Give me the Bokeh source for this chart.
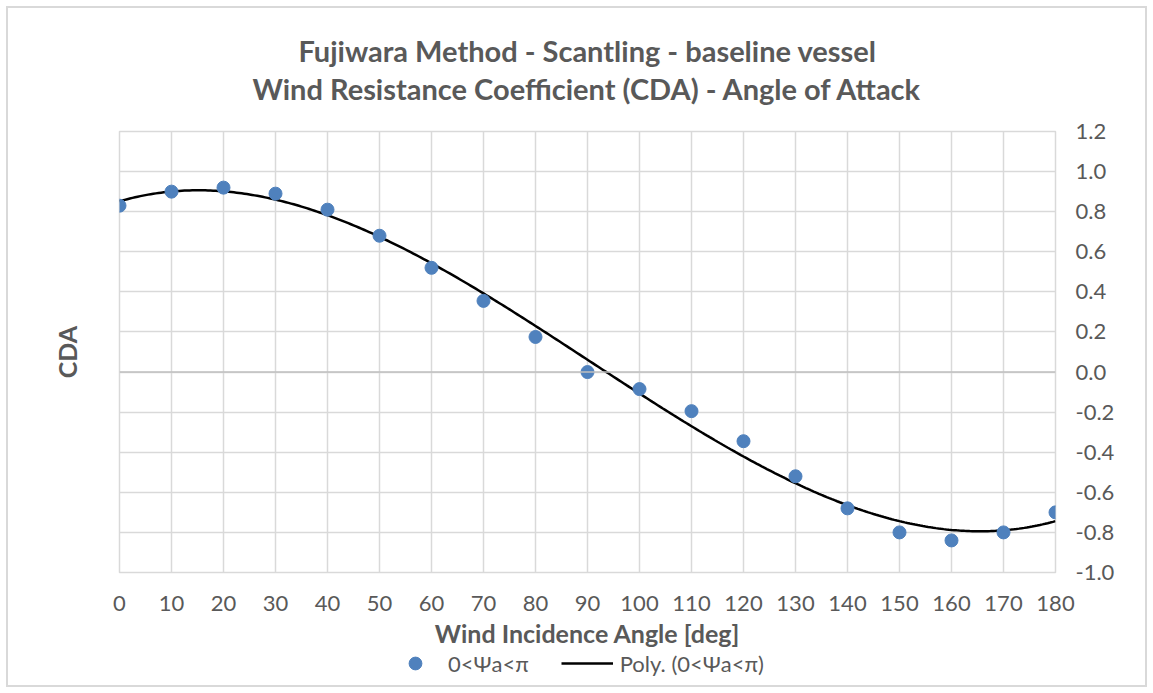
import numpy as np
from bokeh.plotting import figure
from bokeh.layouts import column
from bokeh.models import (Range1d, FixedTicker, NumeralTickFormatter, Span, Label,
                          Legend, LegendItem, LinearAxis)
from bokeh.embed import file_html
from bokeh.resources import INLINE

# Wind incidence angle [deg] and wind resistance coefficient C_DA
angles = [0, 10, 20, 30, 40, 50, 60, 70, 80, 90, 100, 110, 120, 130, 140, 150, 160, 170, 180]
cda = [0.83, 0.90, 0.92, 0.89, 0.81, 0.68, 0.52, 0.355, 0.175, 0.0, -0.085, -0.195,
       -0.345, -0.52, -0.68, -0.80, -0.84, -0.80, -0.70]

x_ticks = list(range(0, 181, 10))
y_ticks = [-1.0, -0.8, -0.6, -0.4, -0.2, 0.0, 0.2, 0.4, 0.6, 0.8, 1.0, 1.2]

title_lines = ["Fujiwara Method - Scantling - baseline vessel",
               "Wind Resistance Coefficient (CDA) - Angle of Attack"]
x_title = "Wind Incidence Angle [deg]"
y_title = "CDA"
series_name = "0<\u03a8a<\u03c0"
trend_name = "Poly. (0<\u03a8a<\u03c0)"

FONT = "Lato"
TEXT = "#595959"
GRID = "#d9d9d9"
BLUE = "#4f81bd"

# order-3 polynomial trendline through the data
coef = np.polyfit(angles, cda, 3)
xs = np.linspace(0, 180, 361)
ys = np.polyval(coef, xs)


def strip(height, x_range, y_range):
    """A bare figure used for the heading and the legend rows."""
    f = figure(width=1153, height=height, output_backend="svg", toolbar_location=None,
               x_range=x_range, y_range=y_range, x_axis_type=None, y_axis_type=None,
               min_border_left=0, min_border_right=0, min_border_top=0, min_border_bottom=0)
    f.outline_line_color = None
    f.background_fill_color = None
    f.border_fill_color = None
    f.xgrid.visible = False
    f.ygrid.visible = False
    return f


# ---- heading: two centred lines
head = strip(111, Range1d(0, 1), Range1d(0, 1))
for txt, yy in zip(title_lines, [0.55, 0.207]):
    head.add_layout(Label(x=0.5, y=yy, text=txt, text_align="center", text_baseline="middle",
                          text_font=FONT, text_font_size="29px", text_font_style="bold",
                          text_color=TEXT))

# ---- main chart
p = figure(width=1153, height=539, output_backend="svg", toolbar_location=None,
           x_range=Range1d(0, 180), y_range=Range1d(-1.0, 1.2),
           y_axis_location="right",
           min_border_left=119, min_border_right=98,
           min_border_top=20, min_border_bottom=78)
p.background_fill_color = "white"
p.border_fill_color = None
p.outline_line_color = GRID
p.outline_line_width = 1.5

p.xgrid.ticker = FixedTicker(ticks=x_ticks)
p.ygrid.ticker = FixedTicker(ticks=y_ticks)
for g in (p.xgrid, p.ygrid):
    g.grid_line_color = GRID
    g.grid_line_width = 1.5

# zero line
p.add_layout(Span(location=0, dimension="width", line_color="#bfbfbf", line_width=1.5))

xa = p.xaxis[0]
xa.ticker = FixedTicker(ticks=x_ticks)
xa.axis_line_color = None
xa.major_tick_line_color = None
xa.minor_tick_line_color = None
xa.major_label_text_font = FONT
xa.major_label_text_font_size = "22px"
xa.major_label_text_color = TEXT
xa.major_label_standoff = 17
xa.axis_label = x_title
xa.axis_label_text_font = FONT
xa.axis_label_text_font_size = "25px"
xa.axis_label_text_font_style = "bold"
xa.axis_label_text_color = TEXT
xa.axis_label_standoff = 4

ya = p.yaxis[0]
ya.ticker = FixedTicker(ticks=y_ticks)
ya.formatter = NumeralTickFormatter(format="0.0")
ya.axis_line_color = None
ya.major_tick_line_color = None
ya.minor_tick_line_color = None
ya.major_label_text_font = FONT
ya.major_label_text_font_size = "22px"
ya.major_label_text_color = TEXT
ya.major_label_standoff = 14

# left axis carries only the C_DA title (its single tick label is hidden)
la = LinearAxis(ticker=FixedTicker(ticks=[0]), axis_line_color=None,
                major_tick_line_color=None, minor_tick_line_color=None,
                major_label_text_color=None, major_label_text_font_size="10px",
                axis_label=y_title, axis_label_text_font=FONT,
                axis_label_text_font_size="25px", axis_label_text_font_style="bold",
                axis_label_text_color=TEXT, axis_label_standoff=32)
p.add_layout(la, "left")

trend = p.line(xs, ys, line_color="black", line_width=2.5)
pts = p.scatter(angles, cda, size=13, fill_color=BLUE, line_color=BLUE)

# ---- legend row; its key renderers reuse the series but the row's ranges
# keep them out of view, so only the legend keys show
leg = strip(43, Range1d(-20, -10), Range1d(0, 1))
key_pts = leg.scatter(angles, cda, size=13, fill_color=BLUE, line_color=BLUE)
key_line = leg.line(xs, ys, line_color="black", line_width=2.5)

legend = Legend(items=[LegendItem(label=series_name, renderers=[key_pts]),
                       LegendItem(label=trend_name, renderers=[key_line])],
                orientation="horizontal", location=(270, 14),
                glyph_width=52, glyph_height=32, label_standoff=7, spacing=32,
                padding=0, margin=0, border_line_color=None,
                background_fill_alpha=0,
                label_text_font=FONT, label_text_font_size="22px",
                label_text_color=TEXT)
leg.add_layout(legend)

page = column(head, p, leg, spacing=0,
              styles={"outline": "2px solid #d9d9d9", "outline-offset": "-8px"})
open("out.html", "w").write(file_html(page, INLINE))
